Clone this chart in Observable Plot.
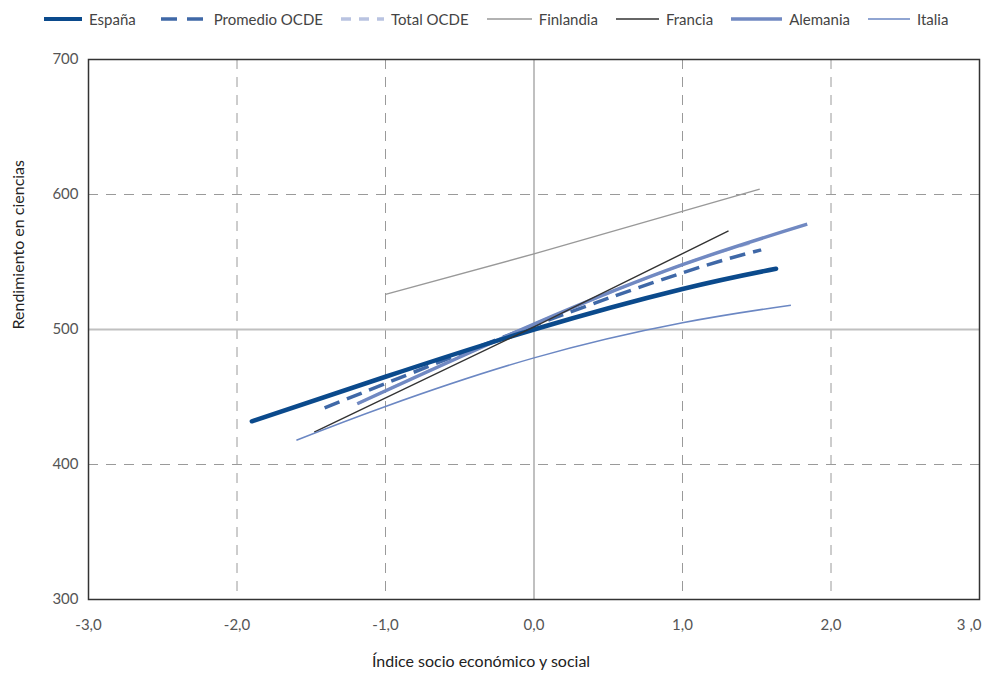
<!DOCTYPE html>
<html>
<head>
<meta charset="utf-8">
<script src="https://cdn.jsdelivr.net/npm/d3@7"></script>
<script src="https://cdn.jsdelivr.net/npm/@observablehq/plot@0.6"></script>
<style>
  html, body { margin: 0; padding: 0; background: #fff; }
  #legend { height: 38px; display: flex; align-items: center; padding-left: 44px; font-family: Lato, sans-serif; font-size: 15px; color: #444; }
  .item { display: flex; align-items: center; margin-right: 18px; }
  .item:first-child { margin-right: 25px; }
  .item svg { margin-right: 7px; }
</style>
</head>
<body>
<div id="legend"></div>
<div id="chart"></div>
<script>
// ---- data ----
const seriesNames = ["España", "Promedio OCDE", "Total OCDE", "Finlandia", "Francia", "Alemania", "Italia"];

const espana   = [[-1.9, 432], [-1.0, 465], [0.0, 500], [1.0, 530], [1.63, 545]];
const promedio = [[-1.41, 442], [-1.0, 460], [0.0, 503], [1.0, 542], [1.53, 559]];
const totalOcde = [[-1.19, 445], [0.0, 504], [1.0, 548], [1.5, 565]];
const finlandia = [[-1.0, 526], [0.0, 556], [1.52, 604]];
const francia  = [[-1.48, 424], [0.0, 502], [1.31, 573]];
const alemania = [[-1.19, 445], [0.0, 504], [1.0, 548], [1.84, 578]];
const italia   = [[-1.6, 418], [-1.0, 443], [0.0, 479], [1.0, 505], [1.73, 518]];

const xTicks = [-3, -2, -1, 0, 1, 2, 3];
const xTickLabels = ["-3,0", "-2,0", "-1,0", "0,0", "1,0", "2,0", "3 ,0"];
const yTicks = [300, 400, 500, 600, 700];
const xLabel = "Índice socio económico y social";
const yLabel = "Rendimiento en ciencias";

// ---- styles ----
const styles = {
  "España":        {stroke: "#0b4a8c", strokeWidth: 4.5, dash: null, curve: "natural"},
  "Promedio OCDE": {stroke: "#3f68a7", strokeWidth: 3.5, dash: "16,8", curve: "natural"},
  "Total OCDE":    {stroke: "#b9c3e1", strokeWidth: 2.5, dash: "10,8", curve: "natural"},
  "Finlandia":     {stroke: "#999999", strokeWidth: 1.5, dash: null, curve: "linear"},
  "Francia":       {stroke: "#333333", strokeWidth: 1.4, dash: null, curve: "linear"},
  "Alemania":      {stroke: "#7189c2", strokeWidth: 3.5, dash: null, curve: "natural"},
  "Italia":        {stroke: "#6b87c3", strokeWidth: 1.5, dash: null, curve: "natural"}
};
const seriesData = {
  "España": espana, "Promedio OCDE": promedio, "Total OCDE": totalOcde,
  "Finlandia": finlandia, "Francia": francia, "Alemania": alemania, "Italia": italia
};

// ---- legend ----
const legend = document.getElementById("legend");
const swatchW = {"España": 38, "Promedio OCDE": 46, "Total OCDE": 43, "Finlandia": 45, "Francia": 43, "Alemania": 51, "Italia": 42};
for (const name of seriesNames) {
  const s = styles[name];
  const item = document.createElement("div");
  item.className = "item";
  const w = swatchW[name];
  const lw = name === "Finlandia" || name === "Francia" || name === "Italia" ? 1.5 : (name === "España" ? 4 : 3.5);
  item.innerHTML = `<svg width="${w}" height="10"><line x1="0" x2="${w}" y1="5" y2="5" stroke="${s.stroke}" stroke-width="${lw}" ${s.dash ? `stroke-dasharray="${name === "Promedio OCDE" ? "16,10" : "10,8"}"` : ""} stroke-linecap="${name === "España" ? "round" : "butt"}"/></svg><span>${name}</span>`;
  legend.appendChild(item);
}

// ---- chart ----
const drawOrder = ["Finlandia", "Total OCDE", "Promedio OCDE", "Alemania", "España", "Francia", "Italia"];
const lineMarks = drawOrder.map(name => {
  const s = styles[name];
  return Plot.line(seriesData[name], {
    x: d => d[0], y: d => d[1],
    stroke: s.stroke, strokeWidth: s.strokeWidth,
    strokeDasharray: s.dash || undefined,
    strokeLinecap: name === "España" ? "round" : "butt",
    curve: s.curve
  });
});

const innerTicks = xTicks.slice(0, -1);
const lastTick = xTicks.slice(-1);

const chart = Plot.plot({
  width: 987,
  height: 642,
  marginTop: 21,
  marginBottom: 81,
  marginLeft: 88,
  marginRight: 8,
  style: {fontFamily: "Lato, sans-serif", fontSize: "15px", color: "#555", background: "#fff"},
  x: {
    domain: [-3, 3],
    ticks: innerTicks,
    tickFormat: d => xTickLabels[xTicks.indexOf(d)],
    tickSize: 0,
    tickPadding: 20,
    label: null
  },
  y: {
    domain: [300, 700],
    ticks: yTicks,
    tickSize: 0,
    tickPadding: 10,
    label: null
  },
  marks: [
    Plot.ruleX([-2, -1, 1, 2], {stroke: "#9a9a9a", strokeDasharray: "10,8", strokeWidth: 1}),
    Plot.ruleY([400, 600], {stroke: "#9a9a9a", strokeDasharray: "10,8", strokeWidth: 1}),
    Plot.ruleX([0], {stroke: "#c0c0c0", strokeWidth: 2}),
    Plot.ruleY([500], {stroke: "#c0c0c0", strokeWidth: 2}),
    ...lineMarks,
    Plot.frame({stroke: "#333", strokeWidth: 1.5}),
    Plot.text(lastTick, {x: d => d, frameAnchor: "bottom", lineAnchor: "top", dy: 20, dx: 2, textAnchor: "end",
      text: d => xTickLabels[xTicks.indexOf(d)], fontSize: 15, fill: "#555"}),
    Plot.text([xLabel], {frameAnchor: "bottom", text: d => d, dy: 67, dx: -53, fontSize: 16, fill: "#222"}),
    Plot.text([yLabel], {frameAnchor: "left", text: d => d, dx: -70, rotate: -90, fontSize: 16, fill: "#222"})
  ]
});
document.getElementById("chart").appendChild(chart);
</script>
</body>
</html>
